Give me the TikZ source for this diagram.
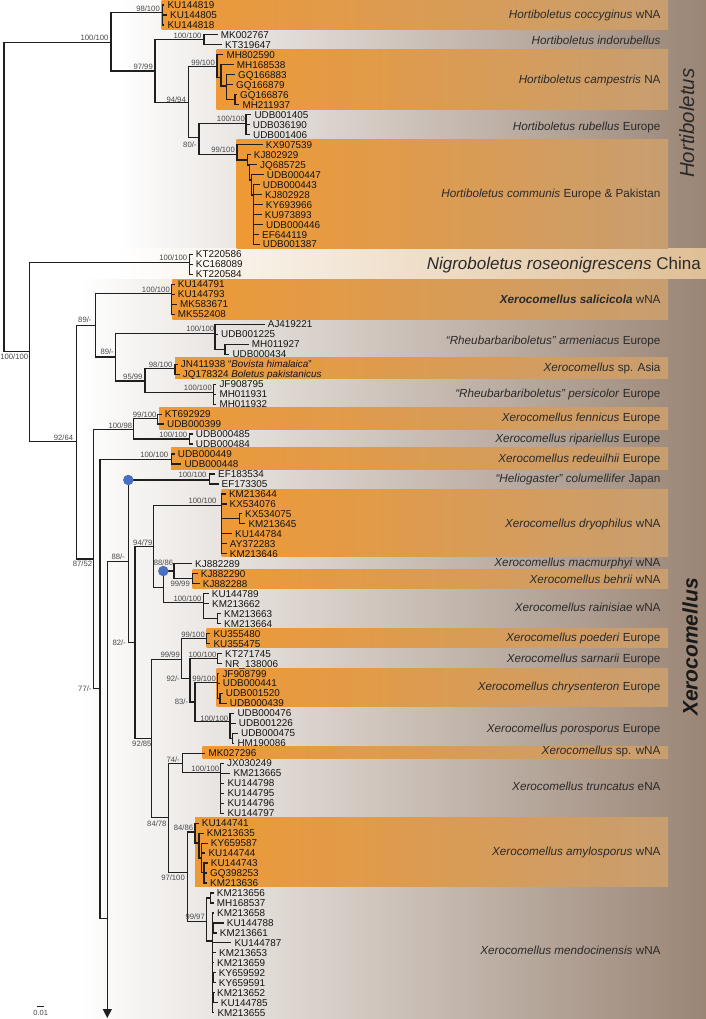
\documentclass[tikz,border=0pt]{standalone}
\usepackage{fontspec}
\setmainfont{Liberation Sans}
\usetikzlibrary{arrows.meta}
\definecolor{bgR}{HTML}{9A8575}
\definecolor{orL}{HTML}{EE9935}
\definecolor{orR}{HTML}{C89E70}
\definecolor{nigR}{HTML}{DFBF95}
\definecolor{dotB}{HTML}{4A6FC0}
\definecolor{supc}{HTML}{4A4A4A}
\definecolor{txtc}{HTML}{2A2A2A}
\newcommand\lf[4]{\node[leaf] (#1) at ({#2-3},#3) {#4};}
\newcommand\ed[2]{\foreach \ch in {#2}{\draw[br] (#1) |- (\ch);}}
\newcommand\sv[4]{\node[suplab] (#1) at (#2,#3) {#4};}
\begin{document}
\begin{tikzpicture}[x=1pt,y=-1pt,
 br/.style={line width=1.2pt, draw=black!88},
 leaf/.style={anchor=west, inner xsep=3pt, inner ysep=0pt, text height=7pt, text depth=0pt, font=\fontsize{9.9}{10}\selectfont, text=black!92},
 suplab/.style={anchor=east, inner sep=0pt, text height=5.5pt, text depth=0pt, font=\fontsize{7.7}{8}\selectfont, text=supc},
 clab/.style={anchor=east, inner sep=0pt, text height=8.4pt, text depth=0pt, font=\fontsize{11.7}{12}\selectfont, text=txtc},
 bar/.style={left color=orL, right color=orR},
 dot/.style={circle, fill=dotB, inner sep=0pt, minimum size=10.5pt}]
\useasboundingbox (0,0) rectangle (706,1019);
\fill[white] (0,0) rectangle (706,1019);
% backgrounds
\shade[left color=white, right color=bgR] (117,0) rectangle (706,248.3);
\shade[left color=white, right color=nigR] (117,248.3) rectangle (706,279);
\shade[left color=white, right color=bgR] (80,279) rectangle (706,1019);
% orange bars
\shade[bar] (161.7,0) rectangle (668,29.3);
\shade[bar] (216.7,50) rectangle (668,109.3);
\shade[bar] (236.7,139.3) rectangle (668,248.3);
\shade[bar] (172.3,279) rectangle (668,319.3);
\shade[bar] (175,357.7) rectangle (668,378.3);
\shade[bar] (159.3,407.7) rectangle (668,429);
\shade[bar] (171,447.3) rectangle (668,469);
\shade[bar] (221.7,489.3) rectangle (668,556.7);
\shade[bar] (192.7,569) rectangle (668,588.7);
\shade[bar] (206.7,628.3) rectangle (668,647.7);
\shade[bar] (216.7,668.3) rectangle (668,706.7);
\shade[bar] (202.7,746.7) rectangle (668,758.3);
\shade[bar] (195,817.3) rectangle (668,886.7);
% leaves
\lf{L0}{167.3}{5}{KU144819}
\lf{L1}{170}{15}{KU144805}
\lf{L2}{167.3}{25}{KU144818}
\lf{L3}{220.7}{34.9}{MK002767}
\lf{L4}{225}{44.9}{KT319647}
\lf{L5}{226.3}{54.9}{MH802590}
\lf{L6}{236.7}{64.9}{MH168538}
\lf{L7}{238}{74.8}{GQ166883}
\lf{L8}{236}{84.8}{GQ166879}
\lf{L9}{240}{94.8}{GQ166876}
\lf{L10}{242.3}{104.8}{MH211937}
\lf{L11}{254.3}{114.7}{UDB001405}
\lf{L12}{252.7}{124.7}{UDB036190}
\lf{L13}{253}{134.7}{UDB001406}
\lf{L14}{265.7}{144.7}{KX907539}
\lf{L15}{253.7}{154.7}{KJ802929}
\lf{L16}{260}{164.6}{JQ685725}
\lf{L17}{266.7}{174.6}{UDB000447}
\lf{L18}{262.7}{184.6}{UDB000443}
\lf{L19}{265}{194.6}{KJ802928}
\lf{L20}{265.7}{204.5}{KY693966}
\lf{L21}{264.7}{214.5}{KU973893}
\lf{L22}{266}{224.5}{UDB000446}
\lf{L23}{262}{234.5}{EF644119}
\lf{L24}{262.7}{244.4}{UDB001387}
\lf{L25}{195.7}{254.4}{KT220586}
\lf{L26}{195.7}{264.4}{KC168089}
\lf{L27}{195.7}{274.4}{KT220584}
\lf{L28}{177.7}{284.4}{KU144791}
\lf{L29}{177.7}{294.3}{KU144793}
\lf{L30}{180}{304.3}{MK583671}
\lf{L31}{177.7}{314.3}{MK552408}
\lf{L32}{267.7}{324.3}{AJ419221}
\lf{L33}{221}{334.2}{UDB001225}
\lf{L34}{251.7}{344.2}{MH011927}
\lf{L35}{232.3}{354.2}{UDB000434}
\lf{L36}{180.7}{364.2}{JN411938 “\textit{Bovista himalaica}”}
\lf{L37}{182.7}{374.2}{JQ178324 \textit{Boletus pakistanicus}}
\lf{L38}{219.3}{384.1}{JF908795}
\lf{L39}{219.3}{394.1}{MH011931}
\lf{L40}{219.3}{404.1}{MH011932}
\lf{L41}{164.7}{414.1}{KT692929}
\lf{L42}{167}{424}{UDB000399}
\lf{L43}{195.7}{434}{UDB000485}
\lf{L44}{195.7}{444}{UDB000484}
\lf{L45}{177.7}{454}{UDB000449}
\lf{L46}{184.3}{463.9}{UDB000448}
\lf{L47}{218}{473.9}{EF183534}
\lf{L48}{221.5}{483.9}{EF173305}
\lf{L49}{228.8}{493.9}{KM213644}
\lf{L50}{229.5}{503.9}{KX534076}
\lf{L51}{245}{513.8}{KX534075}
\lf{L52}{248.3}{523.8}{KM213645}
\lf{L53}{235}{533.8}{KU144784}
\lf{L54}{229.7}{543.8}{AY372283}
\lf{L55}{229.7}{553.7}{KM213646}
\lf{L56}{195}{563.7}{KJ882289}
\lf{L57}{200.7}{573.7}{KJ882290}
\lf{L58}{202.7}{583.7}{KJ882288}
\lf{L59}{211.7}{593.6}{KU144789}
\lf{L60}{212}{603.6}{KM213662}
\lf{L61}{224}{613.6}{KM213663}
\lf{L62}{224}{623.6}{KM213664}
\lf{L63}{213.3}{633.6}{KU355480}
\lf{L64}{213.3}{643.5}{KU355475}
\lf{L65}{225}{653.5}{KT271745}
\lf{L66}{225}{663.5}{NR\_138006}
\lf{L67}{222.3}{673.5}{JF908799}
\lf{L68}{222.7}{683.4}{UDB000441}
\lf{L69}{225.7}{693.4}{UDB001520}
\lf{L70}{229.7}{703.4}{UDB000439}
\lf{L71}{237.3}{713.4}{UDB000476}
\lf{L72}{238.7}{723.3}{UDB001226}
\lf{L73}{241}{733.3}{UDB000475}
\lf{L74}{237.3}{743.3}{HM190086}
\lf{L75}{208.3}{753.3}{MK027296}
\lf{L76}{227}{763.3}{JX030249}
\lf{L77}{233.3}{773.2}{KM213665}
\lf{L78}{227.3}{783.2}{KU144798}
\lf{L79}{227.3}{793.2}{KU144795}
\lf{L80}{227.3}{803.2}{KU144796}
\lf{L81}{227.3}{813.1}{KU144797}
\lf{L82}{201.7}{823.1}{KU144741}
\lf{L83}{206.7}{833.1}{KM213635}
\lf{L84}{210.7}{843.1}{KY659587}
\lf{L85}{208.3}{853}{KU144744}
\lf{L86}{210.7}{863}{KU144743}
\lf{L87}{210}{873}{GQ398253}
\lf{L88}{210}{883}{KM213636}
\lf{L89}{216.7}{893}{KM213656}
\lf{L90}{216.7}{902.9}{MH168537}
\lf{L91}{217}{912.9}{KM213658}
\lf{L92}{226.7}{922.9}{KU144788}
\lf{L93}{219.7}{932.9}{KM213661}
\lf{L94}{234.3}{942.8}{KU144787}
\lf{L95}{219}{952.8}{KM213653}
\lf{L96}{217}{962.8}{KM213659}
\lf{L97}{218.7}{972.8}{KY659592}
\lf{L98}{218.7}{982.7}{KY659591}
\lf{L99}{217}{992.7}{KM213652}
\lf{L100}{220.7}{1002.7}{KU144785}
\lf{L101}{217.3}{1012.7}{KM213655}
% internal nodes
\coordinate (R) at (4,197.2);
\coordinate (H) at (111,42.7);
\coordinate (C1) at (162.3,12.7);
\coordinate (H2) at (155,71);
\coordinate (IND) at (204,39.3);
\coordinate (H3) at (188.3,102.3);
\coordinate (CA) at (217,66.7);
\coordinate (CB) at (221,77.7);
\coordinate (CC) at (226.7,86);
\coordinate (CD) at (235,99.8);
\coordinate (H4) at (199,137.7);
\coordinate (RUB) at (246,123.3);
\coordinate (X1) at (237,154.3);
\coordinate (X2) at (247.5,160);
\coordinate (X3) at (249.5,165);
\coordinate (X4) at (251.5,180);
\coordinate (X5) at (253.5,195);
\coordinate (NX) at (29.3,351.7);
\coordinate (NIG) at (189.7,262.7);
\coordinate (XR) at (76.3,441.7);
\coordinate (XA) at (95.7,325.7);
\coordinate (SAL) at (171.7,293.3);
\coordinate (XB) at (115.7,357);
\coordinate (ARM) at (215,333.3);
\coordinate (AS) at (225,349.2);
\coordinate (XC) at (145,381);
\coordinate (ASIA) at (175,368.7);
\coordinate (PER) at (213.3,392.7);
\coordinate (XD) at (93.3,559);
\coordinate (FR) at (133.3,429.3);
\coordinate (FEN) at (157.3,418.7);
\coordinate (RIP) at (189.7,439);
\coordinate (XE) at (100,688.3);
\coordinate (RED) at (171.3,459.3);
\coordinate (XF) at (107.3,918.3);
\coordinate (AE) at (107.3,1018);
\coordinate (N88) at (128.3,561.7);
\coordinate (HEL) at (209.3,480);
\coordinate (XG) at (135,642.7);
\coordinate (N94) at (153.3,546.7);
\coordinate (DRY) at (221.7,505.7);
\coordinate (D1) at (239.3,518.8);
\coordinate (XH) at (163.3,587.3);
\coordinate (BM) at (174,571);
\coordinate (B99) at (192.7,578.7);
\coordinate (RAIN) at (203.3,602.7);
\coordinate (R2) at (217.3,618.6);
\coordinate (XI) at (151.7,738.3);
\coordinate (XJ) at (181.7,659.3);
\coordinate (POE) at (206.7,638.5);
\coordinate (XK) at (190,678.3);
\coordinate (SAR) at (217.3,658.5);
\coordinate (XL) at (195,702);
\coordinate (CHR) at (217.3,682.7);
\coordinate (C2) at (220,698.4);
\coordinate (POR) at (230,721.7);
\coordinate (P1) at (232.3,738.3);
\coordinate (XM) at (168.3,817.3);
\coordinate (XN) at (182.7,763.3);
\coordinate (TRU) at (220.7,772.7);
\coordinate (XO) at (187.7,872.7);
\coordinate (AMY) at (195,832);
\coordinate (A1) at (199,843);
\coordinate (A2) at (201.7,858);
\coordinate (A3) at (204,872.7);
\coordinate (MEN) at (206.7,921.5);
\coordinate (M1) at (210.7,897.9);
\coordinate (M2) at (212.3,941);
\coordinate (M3) at (213.5,927.9);
\coordinate (M4) at (213.8,977.8);
\coordinate (M5) at (213.8,997.7);
% edges
\ed{R}{H,NX}
\ed{H}{C1,H2}
\ed{C1}{L0.west,L1.west,L2.west}
\ed{H2}{IND,H3}
\ed{IND}{L3.west,L4.west}
\ed{H3}{CA,H4}
\ed{CA}{L5.west,CB}
\ed{CB}{L6.west,CC}
\ed{CC}{L7.west,L8.west,CD}
\ed{CD}{L9.west,L10.west}
\ed{H4}{RUB,X1}
\ed{RUB}{L11.west,L12.west,L13.west}
\ed{X1}{L14.west,X2}
\ed{X2}{L15.west,X3}
\ed{X3}{L16.west,X4}
\ed{X4}{L17.west,X5}
\ed{X5}{L18.west,L19.west,L20.west,L21.west,L22.west,L23.west,L24.west}
\ed{NX}{NIG,XR}
\ed{NIG}{L25.west,L26.west,L27.west}
\ed{XR}{XA,XD}
\ed{XA}{SAL,XB}
\ed{SAL}{L28.west,L29.west,L30.west,L31.west}
\ed{XB}{ARM,XC}
\ed{ARM}{L32.west,L33.west,AS}
\ed{AS}{L34.west,L35.west}
\ed{XC}{ASIA,PER}
\ed{ASIA}{L36.west,L37.west}
\ed{PER}{L38.west,L39.west,L40.west}
\ed{XD}{FR,XE}
\ed{FR}{FEN,RIP}
\ed{FEN}{L41.west,L42.west}
\ed{RIP}{L43.west,L44.west}
\ed{XE}{RED,XF}
\ed{RED}{L45.west,L46.west}
\ed{XF}{N88}
\draw[br,-{Triangle[length=9pt,width=9pt]}] (XF) -- (AE);
\ed{N88}{HEL,XG}
\ed{HEL}{L47.west,L48.west}
\ed{XG}{N94,XI}
\ed{N94}{DRY,XH}
\ed{DRY}{L49.west,L50.west,D1,L53.west,L54.west,L55.west}
\ed{D1}{L51.west,L52.west}
\ed{XH}{BM,RAIN}
\ed{BM}{L56.west,B99}
\ed{B99}{L57.west,L58.west}
\ed{RAIN}{L59.west,L60.west,R2}
\ed{R2}{L61.west,L62.west}
\ed{XI}{XJ,XM}
\ed{XJ}{POE,XK}
\ed{POE}{L63.west,L64.west}
\ed{XK}{SAR,XL}
\ed{SAR}{L65.west,L66.west}
\ed{XL}{CHR,POR}
\ed{CHR}{L67.west,L68.west,C2}
\ed{C2}{L69.west,L70.west}
\ed{POR}{L71.west,L72.west,P1}
\ed{P1}{L73.west,L74.west}
\ed{XM}{XN,XO}
\ed{XN}{L75.west,TRU}
\ed{TRU}{L76.west,L77.west,L78.west,L79.west,L80.west,L81.west}
\ed{XO}{AMY,MEN}
\ed{AMY}{L82.west,A1}
\ed{A1}{L83.west,A2}
\ed{A2}{L84.west,L85.west,A3}
\ed{A3}{L86.west,L87.west,L88.west}
\ed{MEN}{M1,M2}
\ed{M1}{L89.west,L90.west}
\ed{M2}{L91.west,M3,L94.west,L95.west,L96.west,M4,M5,L101.west}
\ed{M3}{L92.west,L93.west}
\ed{M4}{L97.west,L98.west}
\ed{M5}{L99.west,L100.west}
% blue dots
\node[dot] (bd1) at (128.3,480) {};
\node[dot] (bd2) at (163.3,571) {};
% support values
\sv{s1}{108.7}{37.7}{100/100}
\sv{s2}{160}{8.3}{98/100}
\sv{s3}{201.7}{36}{100/100}
\sv{s4}{153}{66.7}{97/99}
\sv{s5}{215}{62.3}{99/100}
\sv{s6}{186}{99.3}{94/94}
\sv{s7}{245}{118.3}{100/100}
\sv{s8}{196.7}{144.3}{80/-}
\sv{s9}{235}{150}{99/100}
\sv{s10}{187.3}{257.3}{100/100}
\sv{s11}{28.3}{356.7}{100/100}
\sv{s12}{170}{289.3}{100/100}
\sv{s13}{91.7}{320}{89/-}
\sv{s14}{214.3}{329}{100/100}
\sv{s15}{114}{351.7}{89/-}
\sv{s16}{172.7}{365}{98/100}
\sv{s17}{142.7}{377.2}{95/99}
\sv{s18}{212}{387.3}{100/100}
\sv{s19}{156.7}{414.3}{99/100}
\sv{s20}{132.3}{425.7}{100/98}
\sv{s21}{187.3}{434.3}{100/100}
\sv{s22}{73.3}{437.7}{92/64}
\sv{s23}{168.3}{455}{100/100}
\sv{s24}{206.7}{475}{100/100}
\sv{s25}{216.7}{500.7}{100/100}
\sv{s26}{152.7}{542.3}{94/79}
\sv{s27}{125}{556.7}{88/-}
\sv{s28}{173.3}{562.7}{88/86}
\sv{s29}{92.3}{564}{87/52}
\sv{s30}{190}{583.3}{99/99}
\sv{s31}{201.7}{598.3}{100/100}
\sv{s32}{126}{642.7}{82/-}
\sv{s33}{205}{634.3}{99/100}
\sv{s34}{180}{655}{99/99}
\sv{s35}{216.7}{654.3}{100/100}
\sv{s36}{180}{679}{92/-}
\sv{s37}{216}{678.3}{99/100}
\sv{s38}{91.7}{688.3}{77/-}
\sv{s39}{188.3}{701.7}{83/-}
\sv{s40}{228.3}{718.3}{100/100}
\sv{s41}{151.7}{743.3}{92/85}
\sv{s42}{180}{759.3}{74/-}
\sv{s43}{219.3}{768.3}{100/100}
\sv{s44}{166.7}{823.3}{84/78}
\sv{s45}{193.3}{827.7}{84/86}
\sv{s46}{185}{877.3}{97/100}
\sv{s47}{205}{916.7}{99/97}
% clade labels
\node[clab] (t1) at (660.7,14) {\textit{Hortiboletus coccyginus} wNA};
\node[clab] (t2) at (660.7,40.7) {\textit{Hortiboletus indorubellus}};
\node[clab] (t3) at (660.7,79.3) {\textit{Hortiboletus campestris} NA};
\node[clab] (t4) at (660.7,126.7) {\textit{Hortiboletus rubellus} Europe};
\node[clab] (t5) at (660.7,193.3) {\textit{Hortiboletus communis} Europe \& Pakistan};
\node[clab] (t6) at (660.7,299) {\textbf{\textit{Xerocomellus salicicola}} wNA};
\node[clab] (t7) at (660.7,340.7) {\textit{“Rheubarbariboletus” armeniacus} Europe};
\node[clab] (t8) at (660.7,367.7) {\textit{Xerocomellus} sp. Asia};
\node[clab] (t9) at (660.7,393.3) {\textit{“Rheubarbariboletus” persicolor} Europe};
\node[clab] (t10) at (660.7,417.7) {\textit{Xerocomellus fennicus} Europe};
\node[clab] (t11) at (660.7,438.7) {\textit{Xerocomellus ripariellus} Europe};
\node[clab] (t12) at (660.7,458.3) {\textit{Xerocomellus redeuilhii} Europe};
\node[clab] (t13) at (660.7,478.3) {\textit{“Heliogaster” columellifer} Japan};
\node[clab] (t14) at (660.7,523.3) {\textit{Xerocomellus dryophilus} wNA};
\node[clab] (t15) at (660.7,562.3) {\textit{Xerocomellus macmurphyi} wNA};
\node[clab] (t16) at (660.7,579) {\textit{Xerocomellus behrii} wNA};
\node[clab] (t17) at (660.7,607.7) {\textit{Xerocomellus rainisiae} wNA};
\node[clab] (t18) at (660.7,637.3) {\textit{Xerocomellus poederi} Europe};
\node[clab] (t19) at (660.7,658.7) {\textit{Xerocomellus sarnarii} Europe};
\node[clab] (t20) at (660.7,686.7) {\textit{Xerocomellus chrysenteron} Europe};
\node[clab] (t21) at (660.7,728) {\textit{Xerocomellus porosporus} Europe};
\node[clab] (t22) at (660.7,750.7) {\textit{Xerocomellus} sp. wNA};
\node[clab] (t23) at (660.7,786.7) {\textit{Xerocomellus truncatus} eNA};
\node[clab] (t24) at (660.7,851.7) {\textit{Xerocomellus amylosporus} wNA};
\node[clab] (t25) at (660.7,950) {\textit{Xerocomellus mendocinensis} wNA};
\node[anchor=east, inner sep=0pt, text height=12.2pt, text depth=0pt, font=\fontsize{17}{18}\selectfont, text=txtc] (tN) at (701,263.3) {\textit{Nigroboletus roseonigrescens} China};
\node[rotate=90, inner sep=0pt, font=\fontsize{20.5}{21}\selectfont\itshape, text=txtc] (tH) at (686.7,123.3) {Hortiboletus};
\node[rotate=90, inner sep=0pt, font=\fontsize{21}{22}\selectfont\bfseries\itshape, text=black!90] (tX) at (690,647) {Xerocomellus};
% scale bar
\draw[line width=1.3pt, black!85] (37.3,1006.6) -- (44,1006.6);
\node[inner sep=0pt, font=\fontsize{7.5}{8}\selectfont, text=supc] (sc) at (40.7,1013) {0.01};
\end{tikzpicture}
\end{document}
